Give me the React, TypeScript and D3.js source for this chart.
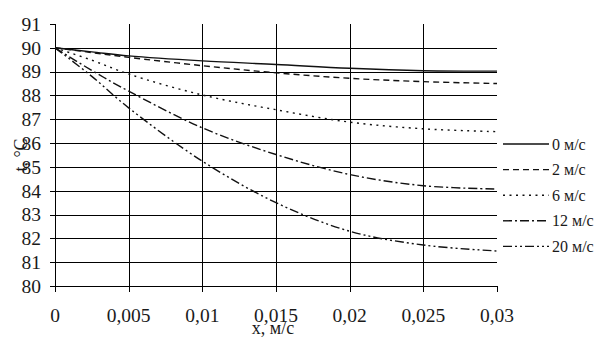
import React from "react";
import * as d3 from "d3";

// x positions (м/с) and temperature readings for each air speed
const xValues = [0, 0.0025, 0.005, 0.01, 0.015, 0.02, 0.025, 0.03];
const speeds = ["0 м/с", "2 м/с", "6 м/с", "12 м/с", "20 м/с"];
const temp0 = [90, 89.83, 89.66, 89.45, 89.3, 89.14, 89.04, 89.02];
const temp2 = [90, 89.8, 89.6, 89.25, 88.95, 88.72, 88.58, 88.5];
const temp6 = [90, 89.48, 88.9, 88.02, 87.4, 86.88, 86.6, 86.48];
const temp12 = [90, 89.05, 88.18, 86.64, 85.52, 84.68, 84.21, 84.07];
const temp20 = [90, 88.8, 87.48, 85.24, 83.5, 82.3, 81.72, 81.47];

const xTicks = [0, 0.005, 0.01, 0.015, 0.02, 0.025, 0.03];
const xTickLabels = ["0", "0,005", "0,01", "0,015", "0,02", "0,025", "0,03"];
const yTicks = [80, 81, 82, 83, 84, 85, 86, 87, 88, 89, 90, 91];

const dashes = ["none", "6,4", "2,4.5", "9,3,2,3", "9,3,2,3,2,3"];

export default function App() {
  const width = 605;
  const height = 353;
  const left = 55;
  const right = 497;
  const top = 24;
  const bottom = 286;
  const font = "'Liberation Serif', 'Times New Roman', serif";

  const xScale = d3.scaleLinear().domain([0, 0.03]).range([left, right]);
  const yScale = d3.scaleLinear().domain([80, 91]).range([bottom, top]);

  const series = [temp0, temp2, temp6, temp12, temp20];
  const line = d3
    .line<number>()
    .x((_, i) => xScale(xValues[i]))
    .y((d) => yScale(d))
    .curve(d3.curveCatmullRom.alpha(0.5));

  const crisp = (v: number) => Math.round(v) + 0.5;

  return (
    <svg
      width={width}
      height={height}
      style={{ position: "absolute", left: 0, top: 0, background: "#fff" }}
      fontFamily={font}
    >
      <rect width={width} height={height} fill="#fff" />
      {/* horizontal grid */}
      {yTicks.filter((t) => t < 91).map((t) => (
        <line
          key={"h" + t}
          x1={left}
          x2={right}
          y1={crisp(yScale(t))}
          y2={crisp(yScale(t))}
          stroke="#000"
          strokeWidth={1}
        />
      ))}
      {/* vertical grid */}
      {xTicks.filter((t) => t > 0 && t < 0.03).map((t) => (
        <line
          key={"v" + t}
          x1={crisp(xScale(t))}
          x2={crisp(xScale(t))}
          y1={yScale(91)}
          y2={yScale(80)}
          stroke="#000"
          strokeWidth={1}
        />
      ))}
      {/* y axis */}
      <line x1={crisp(left)} x2={crisp(left)} y1={yScale(91)} y2={bottom + 6} stroke="#000" />
      {yTicks.map((t) => (
        <g key={"yt" + t}>
          <line x1={left - 5} x2={left} y1={crisp(yScale(t))} y2={crisp(yScale(t))} stroke="#000" />
          <text x={41} y={yScale(t)} dy="0.35em" textAnchor="end" fontSize={19.5} fill="#1a1a1a">
            {t}
          </text>
        </g>
      ))}
      {/* x axis ticks */}
      {xTicks.map((t, i) => (
        <g key={"xt" + t}>
          <line x1={crisp(xScale(t))} x2={crisp(xScale(t))} y1={bottom} y2={bottom + 6} stroke="#000" />
          <text x={xScale(t)} y={322} textAnchor="middle" fontSize={19.5} fill="#1a1a1a">
            {xTickLabels[i]}
          </text>
        </g>
      ))}
      <text x={273} y={334} textAnchor="middle" fontSize={18} fill="#1a1a1a">
        x, м/с
      </text>
      <text
        transform={`translate(27,155) rotate(-90)`}
        textAnchor="middle"
        fontSize={18}
        fill="#1a1a1a"
      >
        t, °C
      </text>
      {/* series */}
      {series.map((s, i) => (
        <path
          key={"s" + i}
          d={line(s) || ""}
          fill="none"
          stroke="#111"
          strokeWidth={1.4}
          strokeDasharray={dashes[i] === "none" ? undefined : dashes[i]}
        />
      ))}
      {/* legend */}
      {speeds.map((label, i) => {
        const y = 144 + i * 25.6;
        return (
          <g key={"lg" + i}>
            <line
              x1={503}
              x2={549}
              y1={y}
              y2={y}
              stroke="#111"
              strokeWidth={1.4}
              strokeDasharray={dashes[i] === "none" ? undefined : dashes[i]}
            />
            <text x={552} y={y} dy="0.35em" fontSize={16} fill="#1a1a1a">
              {label}
            </text>
          </g>
        );
      })}
    </svg>
  );
}
